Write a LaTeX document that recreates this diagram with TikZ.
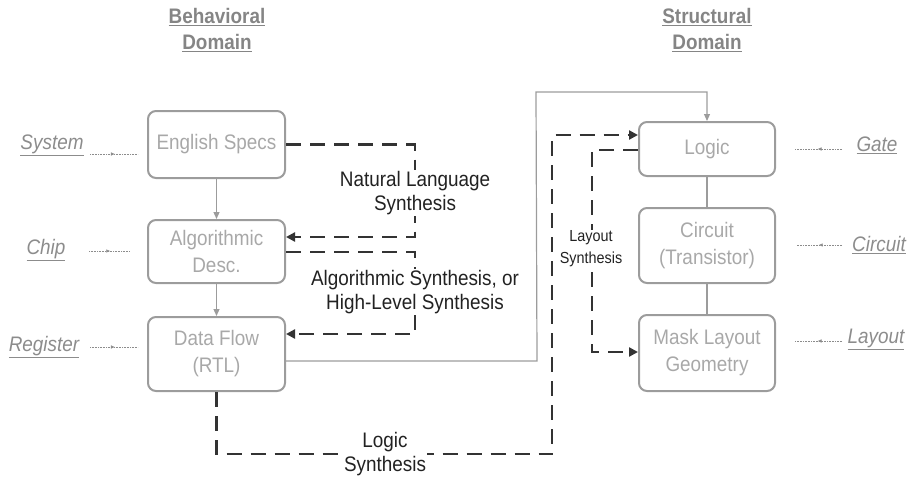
\documentclass[tikz,border=0pt]{standalone}
\usepackage{fontspec}
\setmainfont[FakeStretch=0.9]{Liberation Sans}
\usetikzlibrary{arrows.meta,decorations.markings}
\definecolor{boxline}{HTML}{9C9C9C}
\definecolor{boxtext}{HTML}{A8A8A8}
\definecolor{titlegray}{HTML}{858585}
\definecolor{tagtext}{HTML}{8C8C8C}
\definecolor{flowdark}{HTML}{333333}
\definecolor{labeltext}{HTML}{222222}
\begin{document}
\begin{tikzpicture}[x=1pt,y=-1pt,
  level/.style={draw=boxline, line width=2pt, rounded corners=8pt, text=boxtext,
    font=\fontsize{21}{27}\selectfont, align=center, minimum width=137pt, inner sep=0pt},
  headline/.style={text=titlegray, font=\bfseries\fontsize{21}{26}\selectfont, align=center, inner sep=0pt},
  tag/.style={text=tagtext, font=\itshape\fontsize{21}{23}\selectfont, inner sep=0pt},
  tagline/.style={draw=tagtext, line width=0.6pt, densely dotted, postaction={decorate},
    decoration={markings, mark=at position 0.52 with {\arrow{Latex[length=4pt,width=3.5pt]}}}},
  refine/.style={draw=boxline, line width=1.2pt, -{Triangle[length=7pt,width=6pt]}},
  link/.style={draw=boxline, line width=1.8pt},
  synth/.style={draw=flowdark, line width=2.6pt, dash pattern=on 15pt off 9pt,
    -{Triangle[length=9pt,width=9pt]}},
  synthlabel/.style={fill=white, text=labeltext, font=\fontsize{21}{24}\selectfont,
    align=center, inner sep=1pt},
  smalllabel/.style={fill=white, text=labeltext, font=\fontsize{16}{22}\selectfont,
    align=center, inner sep=1pt}
]
\useasboundingbox (0,0) rectangle (913,479);

% domain headings
\node[headline] (behav) at (217,30) {\underline{Behavioral}\\\underline{Domain}};
\node[headline] (struct) at (707,30) {\underline{Structural}\\\underline{Domain}};

% behavioral levels
\node[level, minimum height=67pt] (spec) at (216.5,144.5) {English Specs};
\node[level, minimum height=63pt] (alg) at (216.5,251.5) {Algorithmic\\Desc.};
\node[level, minimum height=74pt] (df) at (216.5,354) {Data Flow\\(RTL)};

% structural levels
\node[level, minimum width=136pt, minimum height=54pt] (logic) at (707,149) {Logic};
\node[level, minimum width=136pt, minimum height=75pt] (circ) at (707,245.5) {Circuit\\(Transistor)};
\node[level, minimum width=136pt, minimum height=76pt] (mask) at (707,353) {Mask Layout\\Geometry};

% abstraction tags, left
\node[tag] (tsys) at (52,145) {\underline{System}};
\node[tag] (tchip) at (46,250) {\underline{Chip}};
\node[tag] (treg) at (44,347) {\underline{Register}};
\coordinate (sysA) at (90,154);  \coordinate (sysB) at (138,154);
\coordinate (chipA) at (89,251); \coordinate (chipB) at (130,251);
\coordinate (regA) at (90,347);  \coordinate (regB) at (138,347);
\draw[tagline] (sysA) -- (sysB);
\draw[tagline] (chipA) -- (chipB);
\draw[tagline] (regA) -- (regB);

% abstraction tags, right
\node[tag] (tgate) at (877,145) {\underline{Gate}};
\node[tag] (tcirc) at (879,245) {\underline{Circuit}};
\node[tag] (tlay) at (876,339) {\underline{Layout}};
\coordinate (gateA) at (842,149); \coordinate (gateB) at (795,149);
\coordinate (circA) at (842,245); \coordinate (circB) at (797,245);
\coordinate (layA) at (842,341);  \coordinate (layB) at (795,341);
\draw[tagline] (gateA) -- (gateB);
\draw[tagline] (circA) -- (circB);
\draw[tagline] (layA) -- (layB);

% refinement within the domains
\draw[refine] (spec) -- (alg);
\draw[refine] (alg) -- (df);
\draw[link] (logic) -- (circ);
\draw[link] (circ) -- (mask);
\coordinate (rtlcorner) at (536,92);
\draw[refine] ([yshift=-7pt]df.east) -- ++(251,0) -- (rtlcorner) -| (logic.north);

% synthesis steps
\coordinate (nlturn) at (415,237);
\draw[synth] (spec.east) -| (nlturn) -- (alg.east |- nlturn);
\node[synthlabel] (nllabel) at (415,193) {Natural Language\\Synthesis};

\coordinate (asturn) at (415,334);
\draw[synth] ([yshift=-0.5pt]alg.east) -| (asturn) -- (df.east |- asturn);
\node[synthlabel] (aslabel) at (415,292) {Algorithmic Synthesis, or\\High-Level Synthesis};

\coordinate (lsbot) at (552,454);
\coordinate (lstop) at (552,135);
\draw[synth] (df.south) |- (lsbot) -- (lstop) -- (logic.west |- lstop);
\node[synthlabel] (lslabel) at (385,454) {Logic\\Synthesis};

\coordinate (lyturn) at (592,352);
\draw[synth] ([yshift=-1pt]logic.west) -| (lyturn) -- (mask.west |- lyturn);
\node[smalllabel] (lylabel) at (591,249) {Layout\\Synthesis};
\end{tikzpicture}
\end{document}
